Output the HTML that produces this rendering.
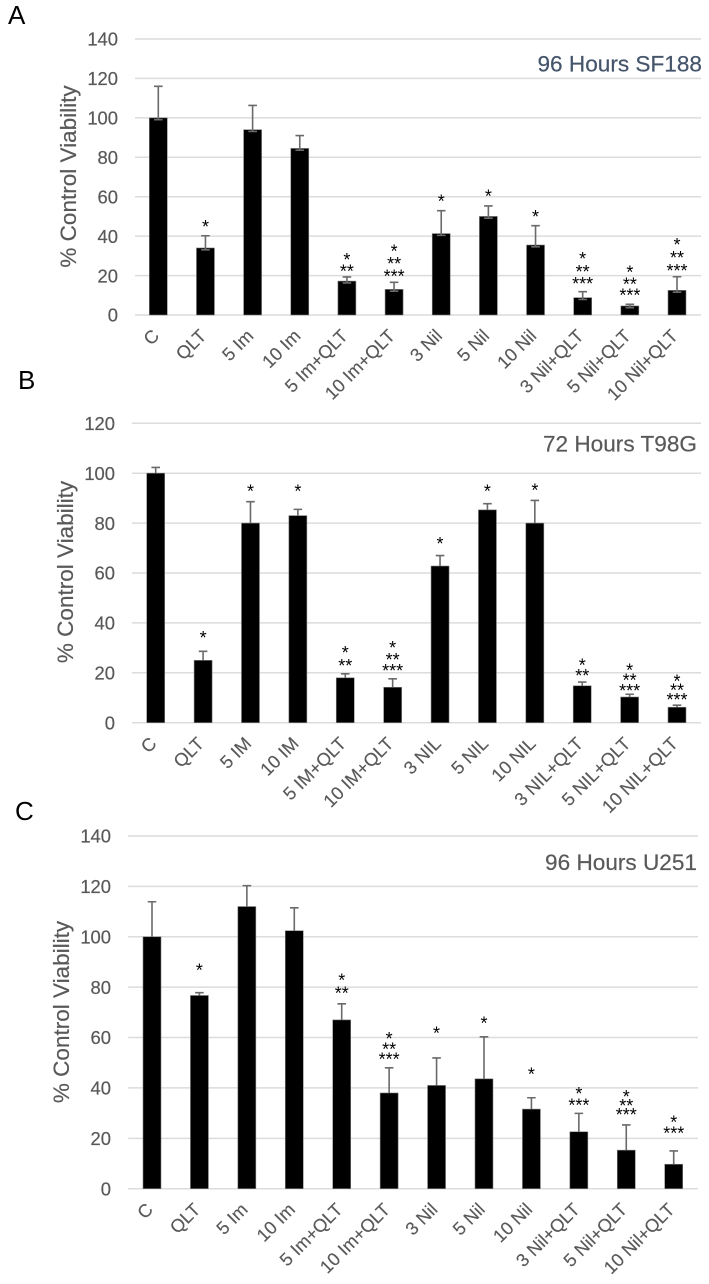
<!DOCTYPE html>
<html lang="en">
<head>
<meta charset="utf-8">
<title>Control viability charts</title>
<style>
html,body{margin:0;padding:0;background:#fff;}
svg{display:block;font-family:"Liberation Sans",sans-serif;}
</style>
</head>
<body>
<svg id="figure" xmlns="http://www.w3.org/2000/svg" width="709" height="1284" viewBox="0 0 709 1284"></svg>
<script>
const aCategories = ["C","QLT","5 Im","10 Im","5 Im+QLT","10 Im+QLT","3 Nil","5 Nil","10 Nil","3 Nil+QLT","5 Nil+QLT","10 Nil+QLT"];
const aValues = [100,34,94,84.5,17.2,13,41.3,50,35.5,8.8,4.6,12.5];
const aErrorTops = [116,40.2,106.3,91,19.3,16.6,52.9,55.3,45.3,11.8,5.4,19.4];
const aTicks = [0,20,40,60,80,100,120,140];
const aStarText = [[],["*"],[],[],["*","**"],["*","**","***"],["*"],["*"],["*"],["*","**","***"],["*","**","***"],["*","**","***"]];
const aStarLevels = [[],[45.5],[],[],[28.6,22.8],[33.1,26.7,20.3],[58.3],[61],[50.6],[29.3,22.5,16.6],[22.3,16.4,10.7],[36.2,29.8,23.2]];

const bCategories = ["C","QLT","5 IM","10 IM","5 IM+QLT","10 IM+QLT","3 NIL","5 NIL","10 NIL","3 NIL+QLT","5 NIL+QLT","10 NIL+QLT"];
const bValues = [100,25,80,83,18,14.2,62.8,85.3,80,14.8,10.3,6.2];
const bErrorTops = [102.3,28.6,88.6,85.5,19.6,17.6,67,87.8,89.1,16.3,11.4,7];
const bTicks = [0,20,40,60,80,100,120];
const bStarText = [[],["*"],["*"],["*"],["*","**"],["*","**","***"],["*"],["*"],["*"],["*","**"],["*","**","***"],["*","**","***"]];
const bStarLevels = [[],[34.5],[93.3],[93.3],[28.5,23.4],[30.5,25.8,21.4],[72.3],[93.4],[93.8],[23.5,19.4],[21.6,17.6,13.4],[17.1,13.6,9.8]];

const cCategories = ["C","QLT","5 Im","10 Im","5 Im+QLT","10 Im+QLT","3 Nil","5 Nil","10 Nil","3 Nil+QLT","5 Nil+QLT","10 Nil+QLT"];
const cValues = [100,76.7,112,102.4,67,38,41,43.6,31.6,22.6,15.3,9.7];
const cErrorTops = [113.9,77.8,120.3,111.5,73.4,48,51.9,60.3,36.1,29.9,25.3,15];
const cTicks = [0,20,40,60,80,100,120,140];
const cStarText = [[],["*"],[],[],["*","**"],["*","**","***"],["*"],["*"],["*"],["*","***"],["*","**","***"],["*","***"]];
const cStarLevels = [[],[87.2],[],[],[83.2,78.2],[60.1,55.9,51.9],[62.2],[66.3],[46],[38.3,33.7],[37.1,33.5,29.9],[27,22.6]];

const SVGNS = "http://www.w3.org/2000/svg";
const figure = document.getElementById("figure");

function add(parent, tag, attrs, text) {
  const el = document.createElementNS(SVGNS, tag);
  for (const k in attrs) el.setAttribute(k, attrs[k]);
  if (text !== undefined) el.textContent = text;
  parent.appendChild(el);
  return el;
}

function drawChart(cfg) {
  const yAt = v => cfg.y0 - (v / cfg.yMax) * (cfg.y0 - cfg.yTop);
  const xAt = i => cfg.x0 + i * (cfg.x1 - cfg.x0) / (cfg.categories.length - 1);

  const g = add(figure, "g", {});
  
  

  const panel = add(g, "text", {x: cfg.panelX, y: cfg.panelY, "font-size": 26, fill: "#000"}, cfg.panel);
  
  

  cfg.ticks.forEach(t => {
    const line = add(g, "line", {x1: cfg.gridL, x2: cfg.gridR, y1: yAt(t), y2: yAt(t), stroke: "#dcdcdc", "stroke-width": 1.5});
    
    
    const label = add(g, "text", {x: cfg.gridL - 17, y: yAt(t) + 6.7, "text-anchor": "end", "font-size": 18.4, fill: "#595959", stroke: "#595959", "stroke-width": 0.2}, t);
    
    
  });

  const yTitle = add(g, "text", {
    transform: "translate(" + cfg.titleX + " " + cfg.titleY + ") rotate(-90)",
    "text-anchor": "middle", "font-size": 22.5, fill: "#595959", stroke: "#595959", "stroke-width": 0.2
  }, "% Control Viability");
  
  

  const chartTitle = add(g, "text", {x: cfg.chartTitleX, y: cfg.chartTitleY, "text-anchor": "end", "font-size": 22.6, fill: cfg.chartTitleColor, stroke: cfg.chartTitleColor, "stroke-width": 0.2}, cfg.chartTitle);
  
  

  cfg.categories.forEach((name, i) => {
    const cx = xAt(i);
    const top = yAt(cfg.values[i]);
    const bar = add(g, "rect", {x: cx - 9, y: top, width: 18, height: cfg.y0 - top, fill: "#000", stroke: "#808080", "stroke-width": 0.6});
    
    

    const errY = yAt(cfg.errors[i]);
    const err = add(g, "path", {
      d: "M" + (cx - 4.3) + " " + errY + "H" + (cx + 4.3) + "M" + cx + " " + errY + "V" + (top + cfg.lowCap) +
         (cfg.lowCap > 0 ? "M" + (cx - 4.3) + " " + (top + cfg.lowCap) + "H" + (cx + 4.3) : ""),
      fill: "none", stroke: "#6a6a6a", "stroke-width": 1.6
    });
    
    

    cfg.starText[i].forEach((stars, r) => {
      const star = add(g, "text", {x: cx, y: yAt(cfg.starLevels[i][r]) + 7.6, "text-anchor": "middle", "font-size": 18, fill: "#000"}, stars);
      
      
    });

    const ax = cx + 2;
    const ay = cfg.y0 + 22;
    const cat = add(g, "text", {
      transform: "translate(" + ax + " " + ay + ") rotate(-45)",
      "text-anchor": "end", "font-size": 18.2, fill: "#595959", stroke: "#595959", "stroke-width": 0.15
    }, name);
    
    
  });
}

drawChart({
  id: "a", panel: "A", panelX: 8, panelY: 24,
  categories: aCategories, values: aValues, errors: aErrorTops, ticks: aTicks, starText: aStarText, starLevels: aStarLevels,
  yMax: 140, yTop: 39, y0: 315, x0: 158.3, x1: 677, gridL: 135, gridR: 701, lowCap: 1.8,
  titleX: 76, titleY: 176.5,
  chartTitle: "96 Hours SF188", chartTitleX: 702, chartTitleY: 71.5, chartTitleColor: "#44546a"
});
drawChart({
  id: "b", panel: "B", panelX: 18, panelY: 389,
  categories: bCategories, values: bValues, errors: bErrorTops, ticks: bTicks, starText: bStarText, starLevels: bStarLevels,
  yMax: 120, yTop: 423.3, y0: 722.7, x0: 155.7, x1: 677, gridL: 132, gridR: 701, lowCap: 0,
  titleX: 73, titleY: 572,
  chartTitle: "72 Hours T98G", chartTitleX: 697, chartTitleY: 451.5, chartTitleColor: "#595959"
});
drawChart({
  id: "c", panel: "C", panelX: 15, panelY: 820,
  categories: cCategories, values: cValues, errors: cErrorTops, ticks: cTicks, starText: cStarText, starLevels: cStarLevels,
  yMax: 140, yTop: 836, y0: 1188.7, x0: 152, x1: 673.7, gridL: 128, gridR: 698, lowCap: 0,
  titleX: 69, titleY: 1012,
  chartTitle: "96 Hours U251", chartTitleX: 697, chartTitleY: 870, chartTitleColor: "#595959"
});
</script>
</body>
</html>
